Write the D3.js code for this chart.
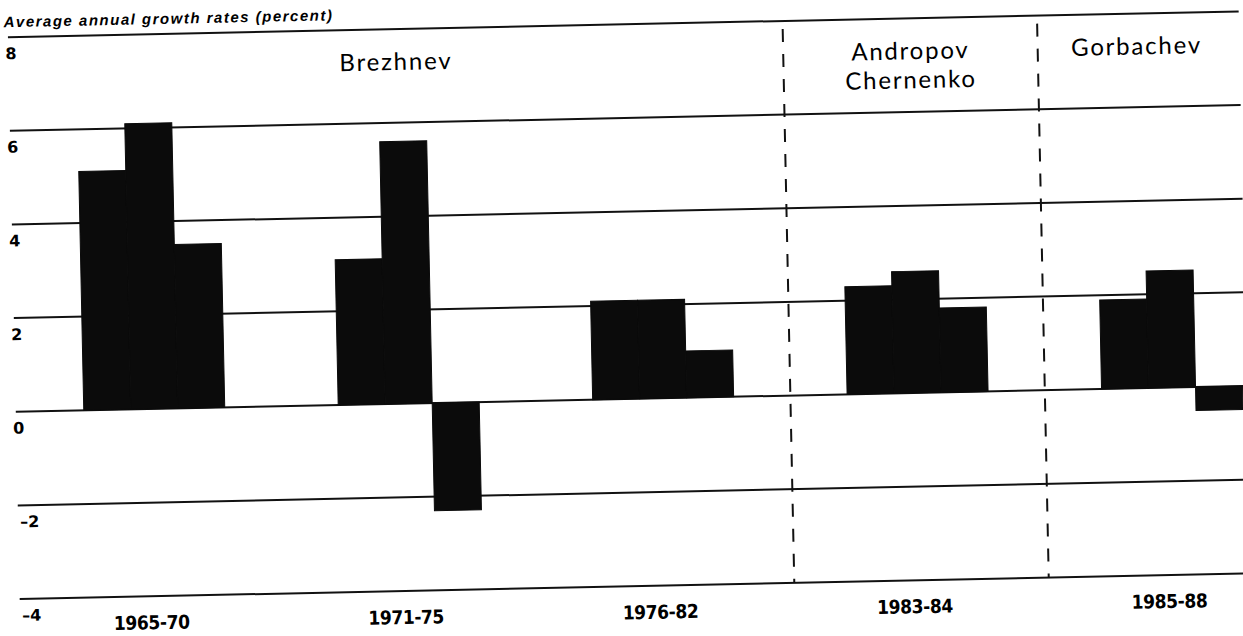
<!DOCTYPE html>
<html>
<head>
<meta charset="utf-8">
<script src="https://cdnjs.cloudflare.com/ajax/libs/d3/7.8.5/d3.min.js"></script>
<style>
    body { margin: 0; background: #ffffff; }
    svg { display: block; }
    .tick-label { font-family: "DejaVu Sans", sans-serif; font-weight: bold; font-size: 16px; }
    .period-label { font-family: "DejaVu Sans", sans-serif; font-stretch: condensed; font-weight: bold; font-size: 19px; letter-spacing: -0.4px; }
    .leader-label { font-family: Lato, "Open Sans", sans-serif; font-size: 24px; letter-spacing: 1.8px; }
    .axis-title { font-family: "Liberation Sans", Arial, sans-serif; font-weight: bold; font-style: italic; font-size: 15px; letter-spacing: 1.5px; }
</style>
</head>
<body>
<div id="graph"></div>
<script>
// Soviet growth rates by period, three bars per period
var periods = ["1965-70", "1971-75", "1976-82", "1983-84", "1985-88"];
var barA = [5.1, 3.1, 2.1, 2.3, 1.9];
var barB = [6.1, 5.6, 2.1, 2.6, 2.5];
var barC = [3.5, -2.3, 1.0, 1.8, -0.5];
var yTicks = [8, 6, 4, 2, 0, -2, -4];
var leaderNames = [["Brezhnev"], ["Andropov", "Chernenko"], ["Gorbachev"]];
var leaderLastPeriod = ["1976-82", "1983-84", "1985-88"];
var axisTitle = "Average annual growth rates (percent)";

function load() {
    var width = 1243;
    var height = 636;
    var gridLeft = 14;
    var gridRight = 1245;

    var svg = d3.select("#graph").append("svg")
        .attr("width", width)
        .attr("height", height);

    // the source is a slightly tilted scan, so the whole chart is turned a bit
    var chart = svg.append("g")
        .attr("transform", "rotate(-1.2, 640, 320)");

    var x = d3.scaleBand()
        .domain(periods)
        .range([82, 1241])
        .paddingInner(0.446)
        .paddingOuter(0);

    var sub = d3.scaleBand()
        .domain([0, 1, 2])
        .range([0, x.bandwidth()]);

    var y = d3.scaleLinear()
        .domain([-4, 8])
        .range([586, 24]);

    var bars = [];
    periods.forEach(function(p, i) {
        [barA[i], barB[i], barC[i]].forEach(function(v, j) {
            bars.push({period: p, index: j, value: v});
        });
    });

    // grid lines
    chart.selectAll(".grid")
        .data(yTicks)
        .enter()
        .append("line")
        .attr("class", "grid")
        .attr("x1", gridLeft)
        .attr("x2", gridRight)
        .attr("y1", function(d) { return y(d); })
        .attr("y2", function(d) { return y(d); })
        .attr("stroke", "#111")
        .attr("stroke-width", 2)
    ;

    chart.selectAll(".tick-label")
        .data(yTicks)
        .enter()
        .append("text")
        .attr("class", "tick-label")
        .attr("x", function(d) { return d < 0 ? gridLeft + 2 : gridLeft - 3; })
        .attr("y", function(d) { return y(d) + 22; })
        .text(function(d) { return d < 0 ? "\u2013" + Math.abs(d) : d; })
    ;

    chart.append("text")
        .attr("class", "axis-title")
        .attr("x", gridLeft - 4)
        .attr("y", y(8) - 10)
        .text(axisTitle)
    ;

    // bars, with a thin stroke so neighbours meet without seams
    chart.selectAll(".bar")
        .data(bars)
        .enter()
        .append("rect")
        .attr("class", "bar")
        .attr("x", function(d) { return x(d.period) + sub(d.index); })
        .attr("width", sub.bandwidth())
        .attr("y", function(d) { return y(Math.max(0, d.value)); })
        .attr("height", function(d) { return Math.abs(y(d.value) - y(0)); })
        .attr("fill", "#0b0b0b")
        .attr("stroke", "#0b0b0b")
        .attr("stroke-width", 1)
    ;

    chart.selectAll(".period-label")
        .data(periods)
        .enter()
        .append("text")
        .attr("class", "period-label")
        .attr("text-anchor", "middle")
        .attr("x", function(d) { return x(d) + x.bandwidth() * 0.45; })
        .attr("y", y(-4) + 33)
        .text(function(d) { return d; })
    ;

    // leader boundaries
    var gap = x.step() * x.paddingInner() / 2;
    var edges = [gridLeft];
    leaderLastPeriod.forEach(function(p, i) {
        if (i < leaderLastPeriod.length - 1) {
            edges.push(x(p) + x.bandwidth() + gap);
        }
    });
    edges.push(1241);

    chart.selectAll(".divider")
        .data(edges.slice(1, -1))
        .enter()
        .append("line")
        .attr("class", "divider")
        .attr("x1", function(d) { return d; })
        .attr("x2", function(d) { return d; })
        .attr("y1", y(8) + 8)
        .attr("y2", y(-4))
        .attr("stroke", "#111")
        .attr("stroke-width", 2)
        .attr("stroke-dasharray", "13,12")
    ;

    var leaders = chart.selectAll(".leader-label")
        .data(leaderNames)
        .enter()
        .append("text")
        .attr("class", "leader-label")
        .attr("text-anchor", "middle")
        .attr("y", y(8) + 41)
    ;

    leaders.selectAll("tspan")
        .data(function(d, i) {
            return d.map(function(n) { return {name: n, cx: (edges[i] + edges[i + 1]) / 2}; });
        })
        .enter()
        .append("tspan")
        .attr("x", function(d) { return d.cx; })
        .attr("dy", function(d, i) { return i === 0 ? 0 : 29; })
        .text(function(d) { return d.name; })
    ;
}

load();
</script>
</body>
</html>
